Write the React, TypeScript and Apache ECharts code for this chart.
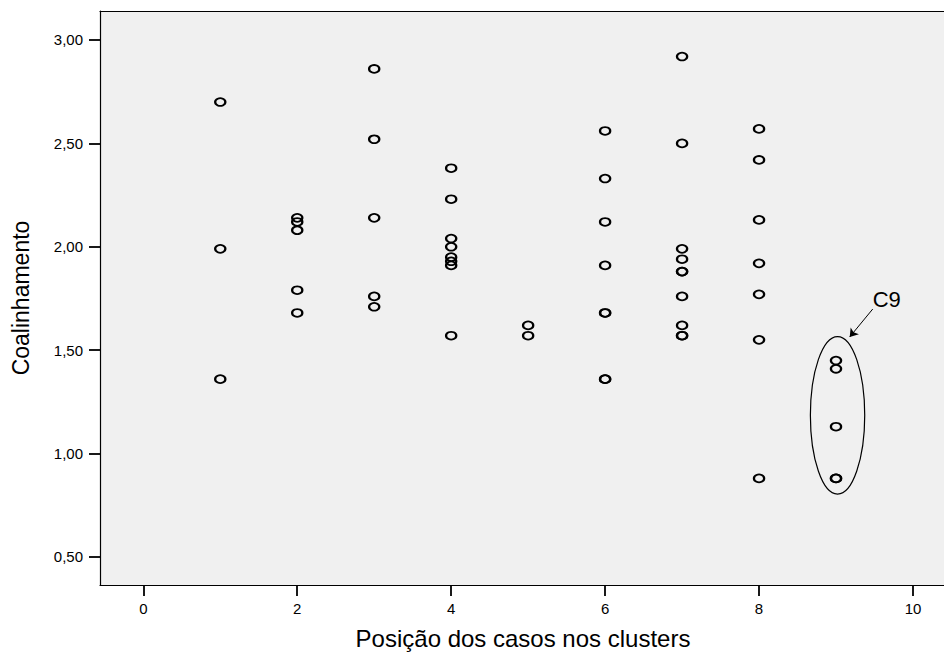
import React, { useEffect, useRef } from "react";
import * as echarts from "echarts";

// Cluster position (x) and Coalinhamento values (y)
const clusterPositions = [1, 2, 3, 4, 5, 6, 7, 8, 9];
const cluster1 = [2.7, 1.99, 1.36];
const cluster2 = [2.14, 2.12, 2.08, 1.79, 1.68];
const cluster3 = [2.86, 2.52, 2.14, 1.76, 1.71];
const cluster4 = [2.38, 2.23, 2.04, 2.0, 1.95, 1.93, 1.91, 1.57];
const cluster5 = [1.62, 1.57];
const cluster6 = [2.56, 2.33, 2.12, 1.91, 1.68, 1.68, 1.36, 1.36];
const cluster7 = [2.92, 2.5, 1.99, 1.94, 1.88, 1.88, 1.76, 1.62, 1.57, 1.57];
const cluster8 = [2.57, 2.42, 2.13, 1.92, 1.77, 1.55, 0.88];
const cluster9 = [1.45, 1.41, 1.13, 0.88, 0.88];
const clusterValues = [cluster1, cluster2, cluster3, cluster4, cluster5, cluster6, cluster7, cluster8, cluster9];

const xTicks = [0, 2, 4, 6, 8, 10];
const yTicks = [0.5, 1.0, 1.5, 2.0, 2.5, 3.0];
const xRange = [-0.5626, 10.429];
const yRange = [0.3646, 3.1402];

const xTitle = "Posição dos casos nos clusters";
const yTitle = "Coalinhamento";

// Annotation around cluster 9 (data coordinates)
const c9Ellipse = [9.02, 1.185, 0.353, 0.381];
const c9Label = [9.477, 1.745];
const c9LabelText = "C9";
const c9Arrow = [
  [9.477, 1.699],
  [9.178, 1.564],
];

const FONT = '"Liberation Sans", Arial, Helvetica, sans-serif';

export default function App() {
  const ref = useRef<HTMLDivElement>(null);

  useEffect(() => {
    if (!ref.current) return;
    const chart = echarts.init(ref.current, null, { renderer: "svg" });

    const points: number[][] = [];
    clusterPositions.forEach((x, i) => {
      clusterValues[i].forEach((v) => points.push([x, v]));
    });

    const fmt = (v: number) => v.toFixed(2).replace(".", ",");

    chart.setOption({
      animation: false,
      backgroundColor: "#ffffff",
      textStyle: { fontFamily: FONT },
      grid: {
        left: 100,
        right: -2,
        top: 11,
        bottom: 67,
        show: true,
        backgroundColor: "#f0f0f0",
        borderWidth: 0,
        containLabel: false,
        outerBoundsMode: "none",
      },
      xAxis: [
        {
          type: "value",
          position: "bottom",
          min: xRange[0],
          max: xRange[1],
          name: xTitle,
          nameLocation: "middle",
          nameGap: 41,
          nameTextStyle: { fontSize: 24, color: "#000", fontFamily: FONT },
          axisLine: { show: true, onZero: false, lineStyle: { color: "#000", width: 1.2 } },
          axisTick: {
            show: true,
            inside: false,
            length: 11,
            customValues: xTicks,
            lineStyle: { color: "#000", width: 1.8 },
          },
          axisLabel: {
            show: true,
            customValues: xTicks,
            margin: 16,
            fontSize: 15,
            color: "#000",
            fontFamily: FONT,
            formatter: (v: number) => String(v),
          },
          splitLine: { show: false },
        },
        {
          type: "value",
          position: "top",
          min: xRange[0],
          max: xRange[1],
          axisLine: { show: true, onZero: false, lineStyle: { color: "#000", width: 1.2 } },
          axisTick: { show: false },
          axisLabel: { show: false },
          splitLine: { show: false },
        },
      ],
      yAxis: {
        type: "value",
        min: yRange[0],
        max: yRange[1],
        name: yTitle,
        nameLocation: "middle",
        nameGap: 68,
        nameRotate: 90,
        nameTextStyle: { fontSize: 23, color: "#000", fontFamily: FONT },
        axisLine: { show: true, onZero: false, lineStyle: { color: "#000", width: 1.2 } },
        axisTick: {
          show: true,
          inside: false,
          length: 11,
          customValues: yTicks,
          lineStyle: { color: "#000", width: 1.8 },
        },
        axisLabel: {
          show: true,
          customValues: yTicks,
          margin: 17,
          fontSize: 15,
          color: "#000",
          fontFamily: FONT,
          formatter: (v: number) => fmt(v),
        },
        splitLine: { show: false },
      },
      series: [
        {
          type: "custom",
          silent: true,
          z: 1,
          data: [c9Ellipse],
          renderItem: (params: any, api: any) => {
            const c = api.coord([api.value(0), api.value(1)]);
            const s = api.size([api.value(2), api.value(3)]);
            return {
              type: "ellipse",
              shape: { cx: c[0], cy: c[1], rx: s[0], ry: s[1] },
              style: { fill: "none", stroke: "#000", lineWidth: 1.2 },
            };
          },
        },
        {
          type: "custom",
          silent: true,
          z: 1,
          data: [c9Label],
          renderItem: (params: any, api: any) => {
            const c = api.coord([api.value(0), api.value(1)]);
            return {
              type: "text",
              x: c[0],
              y: c[1],
              style: {
                text: c9LabelText,
                fill: "#000",
                fontSize: 22,
                fontFamily: FONT,
                align: "left",
                verticalAlign: "middle",
              },
            };
          },
        },
        {
          type: "scatter",
          z: 3,
          data: points,
          symbol: "circle",
          symbolSize: [10.2, 7.8],
          itemStyle: {
            color: "rgba(0,0,0,0)",
            borderColor: "#000",
            borderWidth: 2,
            opacity: 1,
          },
          emphasis: { disabled: true },
          markLine: {
            silent: true,
            animation: false,
            symbol: ["none", "arrow"],
            symbolSize: 8,
            label: { show: false },
            lineStyle: { color: "#000", width: 1, type: "solid" },
            emphasis: { disabled: true },
            data: [[{ coord: c9Arrow[0] }, { coord: c9Arrow[1] }]],
          },
        },
      ],
    });

    return () => {
      chart.dispose();
    };
  }, []);

  return (
    <div
      ref={ref}
      style={{ position: "fixed", left: 0, top: 0, width: 944, height: 652 }}
    />
  );
}
